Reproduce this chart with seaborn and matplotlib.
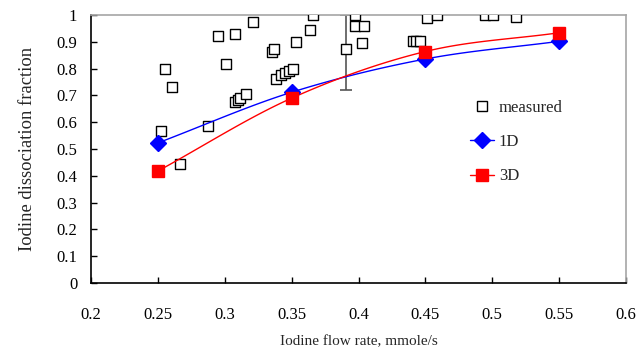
"""Iodine dissociation fraction vs. iodine flow rate: measured points and 1D / 3D model curves."""

import matplotlib
matplotlib.use("Agg")
import matplotlib.pyplot as plt
from matplotlib.lines import Line2D
import numpy as np
import pandas as pd
import seaborn as sns

# measured data (open squares)
meas_flow = [0.2523, 0.2553, 0.2603, 0.2663, 0.2872, 0.2952, 0.3012, 0.3072,
             0.3079, 0.3097, 0.3114, 0.3161, 0.3211, 0.3356, 0.3371, 0.3383,
             0.3420, 0.3450, 0.3480, 0.3510, 0.3535, 0.3635, 0.3662, 0.3904,
             0.3974, 0.3974, 0.4043, 0.4026, 0.4408, 0.4427, 0.4457, 0.4510,
             0.4585, 0.4946, 0.5003, 0.5175]
meas_frac = [0.567, 0.800, 0.730, 0.443, 0.586, 0.922, 0.816, 0.928,
             0.674, 0.683, 0.689, 0.706, 0.976, 0.863, 0.872, 0.763,
             0.776, 0.785, 0.791, 0.797, 0.898, 0.943, 1.000, 0.872,
             1.000, 0.959, 0.958, 0.897, 0.902, 0.902, 0.903, 0.990,
             1.000, 1.000, 1.000, 0.993]

# error bar on one measured point
err_flow = [0.3904]
err_frac = [0.872]
err_lo = [0.152]
err_hi = [0.129]

# model results
model_flow = [0.25, 0.35, 0.45, 0.55]
frac_1d = [0.523, 0.712, 0.836, 0.902]
frac_3d = [0.418, 0.690, 0.864, 0.934]

x_ticks = [0.2, 0.25, 0.3, 0.35, 0.4, 0.45, 0.5, 0.55, 0.6]
x_tick_labels = ["0.2", "0.25", "0.3", "0.35", "0.4", "0.45", "0.5", "0.55", "0.6"]
y_ticks = [0, 0.1, 0.2, 0.3, 0.4, 0.5, 0.6, 0.7, 0.8, 0.9, 1.0]
y_tick_labels = ["0", "0.1", "0.2", "0.3", "0.4", "0.5", "0.6", "0.7", "0.8", "0.9", "1"]


def smooth(xs, ys, n=40):
    """Catmull-Rom curve through the points (like a spreadsheet's smoothed line)."""
    p = np.column_stack([xs, ys]).astype(float)
    p = np.vstack([2 * p[0] - p[1], p, 2 * p[-1] - p[-2]])
    out = []
    t = np.linspace(0, 1, n)[:, None]
    for i in range(1, len(p) - 2):
        p0, p1, p2, p3 = p[i - 1], p[i], p[i + 1], p[i + 2]
        seg = 0.5 * ((2 * p1) + (-p0 + p2) * t + (2 * p0 - 5 * p1 + 4 * p2 - p3) * t ** 2
                     + (-p0 + 3 * p1 - 3 * p2 + p3) * t ** 3)
        out.append(seg)
    c = np.vstack(out)
    return c[:, 0], c[:, 1]


sns.set_theme(style="ticks")
plt.rcParams["font.family"] = ["Liberation Serif", "DejaVu Serif"]

fig, ax = plt.subplots(figsize=(6.38, 3.51), dpi=100)
fig.subplots_adjust(left=0.143, right=0.981, top=0.957, bottom=0.194)

measured = pd.DataFrame({"flow": meas_flow, "frac": meas_frac})
sns.scatterplot(data=measured, x="flow", y="frac", marker="s", s=42,
                facecolor="white", edgecolor="black", linewidth=1.0, ax=ax, zorder=3)

ax.errorbar(err_flow, err_frac, yerr=[err_lo, err_hi], fmt="none",
            ecolor="#555555", elinewidth=1.2, capsize=4, capthick=1.2, zorder=2)

for vals, color, marker, ms in [(frac_1d, "#0000ff", "D", 8), (frac_3d, "#ff0000", "s", 8)]:
    sx, sy = smooth(model_flow, vals)
    curve = pd.DataFrame({"flow": sx, "frac": sy})
    sns.lineplot(data=curve, x="flow", y="frac", color=color, linewidth=1.0,
                 sort=False, estimator=None, ax=ax, zorder=4)
    ax.plot(model_flow, vals, linestyle="none", marker=marker, markersize=ms,
            color=color, markeredgecolor=color, zorder=5)

ax.set_xlim(0.2, 0.6)
ax.set_ylim(0, 1)
ax.set_xticks(x_ticks)
ax.set_xticklabels(x_tick_labels)
ax.set_yticks(y_ticks)
ax.set_yticklabels(y_tick_labels)
ax.tick_params(direction="in", length=4, width=1, labelsize=12, colors="black")
ax.tick_params(axis="x", pad=17)
ax.tick_params(axis="y", pad=10)

for side in ["left", "bottom"]:
    ax.spines[side].set_color("black")
    ax.spines[side].set_linewidth(1.2)
for side in ["top", "right"]:
    ax.spines[side].set_visible(True)
    ax.spines[side].set_color("#a6a6a6")
    ax.spines[side].set_linewidth(1.2)

ax.set_xlabel("Iodine flow rate, mmole/s", fontsize=11, labelpad=9)
ax.set_ylabel("Iodine dissociation fraction", fontsize=13.4, labelpad=15)

handles = [
    Line2D([], [], linestyle="none", marker="s", markersize=6.5,
           markerfacecolor="white", markeredgecolor="black"),
    Line2D([], [], color="#0000ff", linewidth=1.0, marker="D", markersize=8),
    Line2D([], [], color="#ff0000", linewidth=1.0, marker="s", markersize=8),
]
ax.legend(handles, ["measured", "1D", "3D"], loc="upper left",
          bbox_to_anchor=(0.68, 0.74), frameon=False, fontsize=12,
          labelspacing=1.1, handlelength=1.45, handletextpad=0.3)

fig.savefig("out.png", dpi=100)
